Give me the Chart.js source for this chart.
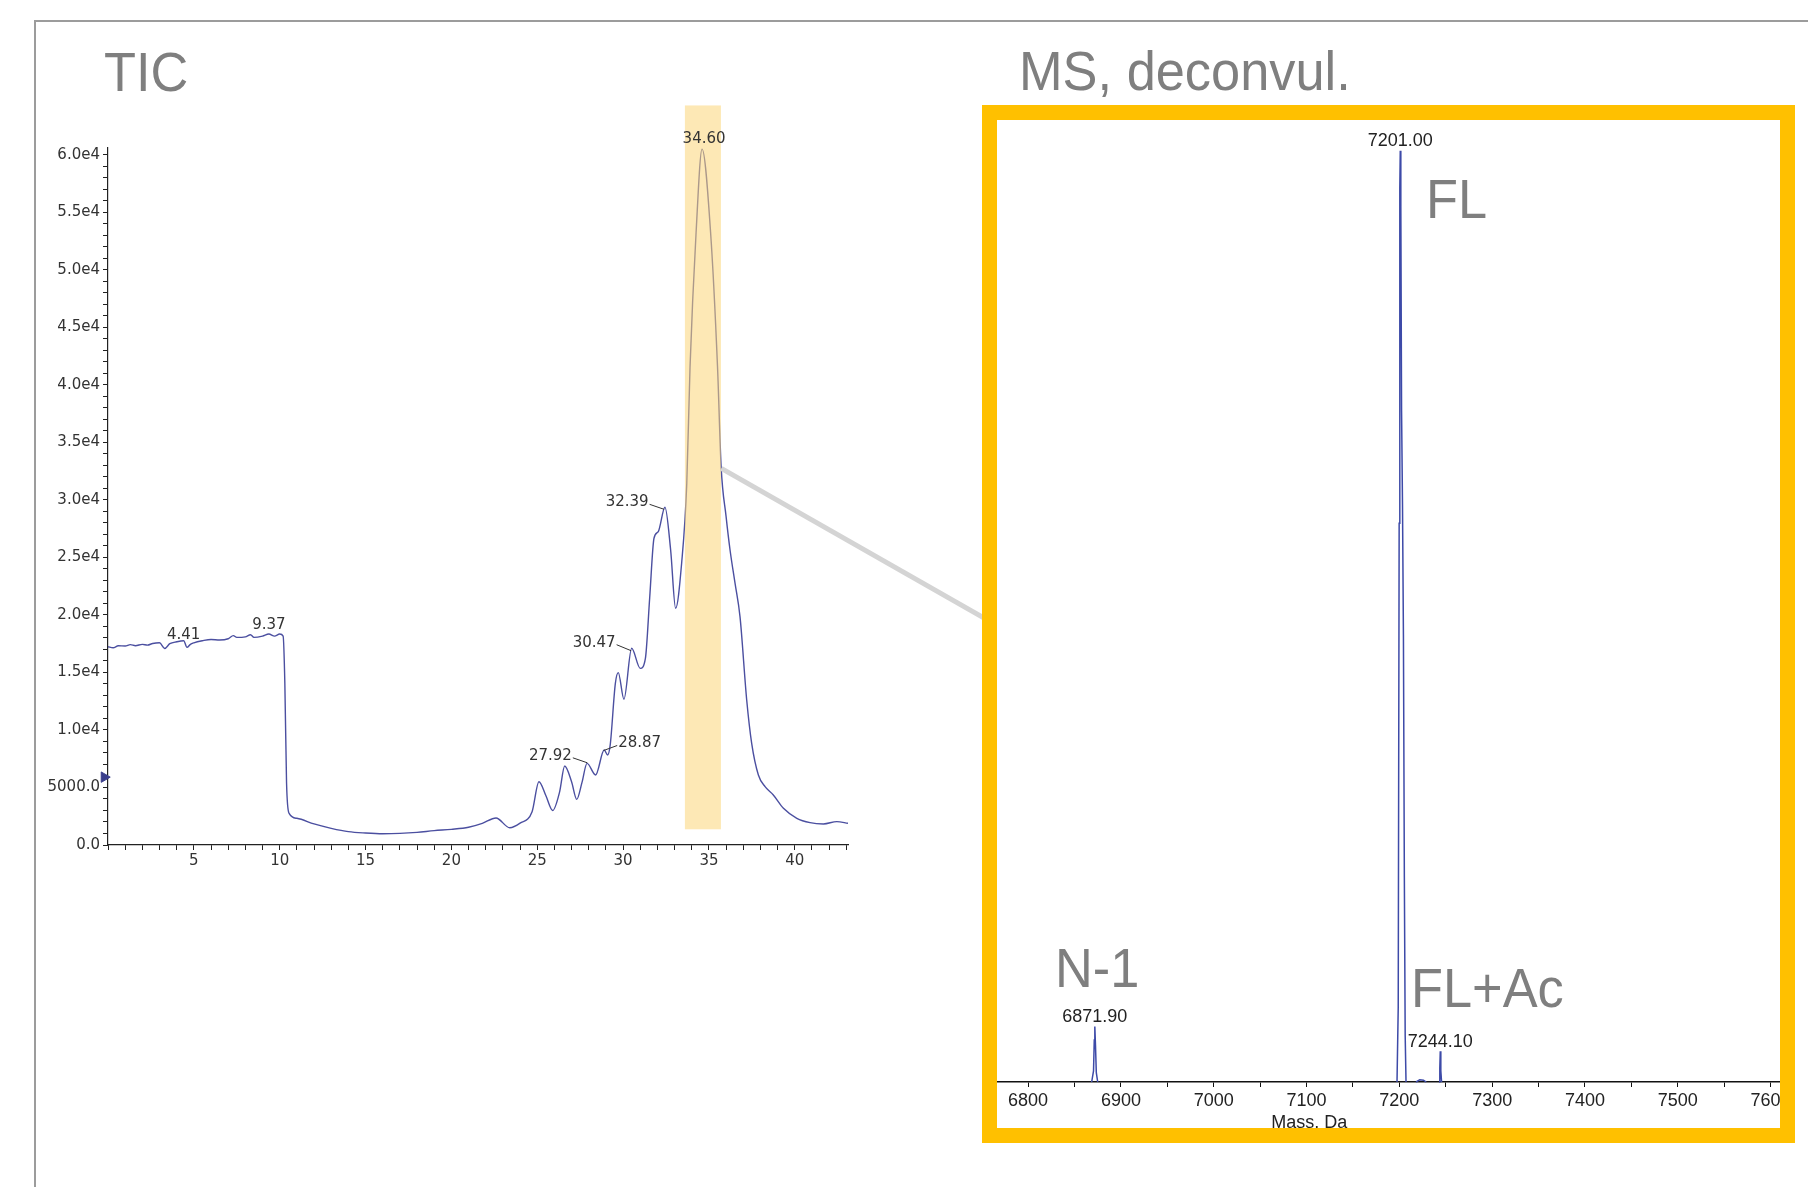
<!DOCTYPE html>
<html>
<head>
<meta charset="utf-8">
<script src="https://cdn.jsdelivr.net/npm/chart.js@4.4.1/dist/chart.umd.min.js"></script>
<style>
    body { margin: 0; width: 1808px; height: 1187px; overflow: hidden; position: relative; background: #fff; font-family: "Liberation Sans", Arial, sans-serif; }
    #frame { position: absolute; left: 34px; top: 20px; width: 1800px; height: 1200px; border-top: 2px solid #9c9c9c; border-left: 2px solid #9c9c9c; }
    .big { position: absolute; font-size: 56px; line-height: 56px; color: #7f7f7f; white-space: nowrap; transform: scaleX(0.935); transform-origin: left top; z-index: 5; }
    #ticCanvas { position: absolute; left: 0; top: 0; }
    #msBox { position: absolute; left: 982px; top: 105px; width: 813px; height: 1038px; border: 15px solid #ffc000; box-sizing: border-box; background: #fff; }
    #msClip { position: absolute; left: 0; top: 0; width: 783px; height: 1008px; overflow: hidden; }
    #msCanvas { position: absolute; left: 0; top: 0; }
</style>
</head>
<body>
<div id="frame"></div>
<canvas id="ticCanvas" width="1000" height="900"></canvas>
<div id="msBox"><div id="msClip"><canvas id="msCanvas" width="823" height="1008"></canvas></div></div>

<div class="big" style="left:104px; top:44px;">TIC</div>
<div class="big" style="left:1019px; top:43px;">MS, deconvul.</div>
<div class="big" style="left:1426px; top:171px;">FL</div>
<div class="big" style="left:1055px; top:940px;">N-1</div>
<div class="big" style="left:1411px; top:960px;">FL+Ac</div>

<script>
// TIC trace (time in min, intensity in counts)
const ticTime = [0, 0.3, 0.6, 1, 1.3, 1.6, 2, 2.3, 2.6, 3, 3.3, 3.6, 4.0, 4.41, 4.6, 4.8, 5, 5.5, 6, 6.5, 7, 7.3, 7.5, 8, 8.3, 8.5, 9, 9.37, 9.7, 10.0, 10.2,
    10.3, 10.4, 10.55, 11, 12, 13, 14, 15, 16, 17, 18, 19, 20, 21, 21.8, 22.6, 23.4, 24, 24.7, 25.1, 25.5, 25.9,
    26.3, 26.6, 27.0, 27.3, 27.6, 27.9, 28.4, 28.9, 29.1, 29.25, 29.55, 29.72, 30.05, 30.5, 31.0, 31.3, 31.55,
    31.8, 32.05, 32.44, 32.77, 33.06, 33.41, 33.71, 33.9, 34.25, 34.6, 35.1, 35.5, 35.71, 36.0, 36.23, 36.52,
    36.81, 37.2, 37.49, 37.88, 38.27, 38.75, 39.34, 40.12, 40.89, 41.67, 42.45, 43.1];
const ticIntensity = [17240, 17150, 17320, 17300, 17420, 17330, 17440, 17380, 17520, 17580, 17090, 17500, 17670, 17760, 17180, 17450, 17580, 17760, 17870, 17820, 17930, 18200, 18050, 18100, 18280, 18050, 18160, 18340, 18160, 18340, 18160,
    14050, 5360, 2750, 2320, 1830, 1450, 1160, 1040, 980, 1010, 1100, 1250, 1360, 1540, 1880, 2350, 1500, 1900, 2900, 5500, 4300, 3000,
    4600, 6870, 5500, 3970, 5400, 7100, 6090, 8260, 7830, 8700, 14060, 14990, 12670, 17100, 15360, 16230, 21500,
    26670, 27250, 29370, 25650, 20580, 24500, 31450, 41590, 53190, 60500, 53190, 41590, 32900, 28550, 25650, 22760,
    19850, 12610, 8840, 6090, 5070, 4350, 3190, 2320, 1940, 1830, 2030, 1890];

// y ticks every 1000, labelled every 5000
const ticYTicks = Array.from({length: 61}, (_, i) => i * 1000);

const peakTimes = [4.41, 9.37, 27.92, 28.87, 30.47, 32.39, 34.60];
// label offsets from the peak in px, and which side of the text gets a leader line
const peakLabelStyle = [[0, -6, null], [0, -9, null], [-37, -8, 'right'], [36, -8, 'left'], [-37, -9, 'right'], [-37, -8, 'right'], [2, -10, null]];

const bandTimes = [33.6, 35.7];
const bandLevels = [1365, 64300];
const zoomFromTime = 35.72;
const markerTime = [-0.22];
const markerLevel = [5900];

// deconvoluted spectrum (mass in Da, relative intensity)
const msMass = [6868.5, 6870.5, 6871.3, 6871.9, 6872.6, 6873.5, 6875, 6875,
    7197.5, 7198.8, 7199.8, 7200.5, 7201.0, 7201.6, 7202.4, 7203.4, 7204.4, 7205.4, 7206.3, 7207.2, 7207.2,
    7218, 7222, 7226, 7229, 7229,
    7242.8, 7243.6, 7244.1, 7244.7, 7245.5];
const msIntensity = [0, 1.2, 4.5, 5.95, 4, 1, 0, null,
    0, 8, 60, 96, 100, 94, 72, 62, 48, 22, 5, 0, null,
    0, 0.25, 0.2, 0, null,
    0, 1.5, 3.3, 1.2, 0];
const msLabelMass = [6871.90, 7201.00, 7244.10];
const msAxisTitle = 'Mass, Da';
const msAxisTitleAt = 7103;

function valueAt(t) {
    for (let i = 1; i < ticTime.length; i++) {
        if (ticTime[i] >= t) {
            const f = (t - ticTime[i - 1]) / (ticTime[i] - ticTime[i - 1]);
            return ticIntensity[i - 1] + f * (ticIntensity[i] - ticIntensity[i - 1]);
        }
    }
    return ticIntensity[ticIntensity.length - 1];
}

const ticDecor = {
    id: 'ticDecor',
    afterDatasetsDraw(chart) {
        const {ctx, scales: {x, y}} = chart;
        ctx.save();
        // highlighted peak window
        const bx0 = x.getPixelForValue(bandTimes[0]);
        const bx1 = x.getPixelForValue(bandTimes[1]);
        const by0 = y.getPixelForValue(bandLevels[1]);
        const by1 = y.getPixelForValue(bandLevels[0]);
        ctx.fillStyle = 'rgba(252, 214, 120, 0.55)';
        ctx.fillRect(bx0, by0, bx1 - bx0, by1 - by0);

        // grey connector towards the MS panel
        const cx = x.getPixelForValue(zoomFromTime);
        const cy = y.getPixelForValue(valueAt(zoomFromTime));
        ctx.strokeStyle = '#d4d4d4';
        ctx.lineWidth = 5;
        ctx.beginPath();
        ctx.moveTo(cx, cy);
        ctx.lineTo(chart.width, cy + (chart.width - cx) * 0.57);
        ctx.stroke();

        // peak labels
        ctx.font = '15px "DejaVu Sans"';
        ctx.fillStyle = '#333';
        ctx.strokeStyle = '#333';
        ctx.lineWidth = 1;
        ctx.textAlign = 'center';
        ctx.textBaseline = 'middle';
        peakTimes.forEach((t, i) => {
            const [dx, dy, side] = peakLabelStyle[i];
            const px = x.getPixelForValue(t);
            const py = y.getPixelForValue(valueAt(t));
            const text = t.toFixed(2);
            const tx = px + dx, ty = py + dy;
            ctx.fillText(text, tx, ty);
            if (side) {
                const w = ctx.measureText(text).width;
                const ex = side === 'right' ? tx + w / 2 + 1 : tx - w / 2 - 1;
                ctx.beginPath();
                ctx.moveTo(ex, ty + 2);
                ctx.lineTo(px, py - 1);
                ctx.stroke();
            }
        });
        ctx.restore();
    }
};

function ticYLabel(v) {
    if (v % 5000 !== 0) return '';
    if (v === 0) return '0.0';
    if (v === 5000) return '5000.0';
    return (v / 10000).toFixed(1) + 'e4';
}

new Chart(document.getElementById('ticCanvas'), {
    type: 'line',
    data: {
        datasets: [{
            data: ticTime.map((t, i) => ({x: t, y: ticIntensity[i]})),
            borderColor: '#4b4fa0',
            borderWidth: 1.4,
            pointRadius: 0,
            cubicInterpolationMode: 'monotone'
        }, {
            data: markerTime.map((t, i) => ({x: t, y: markerLevel[i]})),
            showLine: false,
            pointStyle: 'triangle',
            rotation: 90,
            pointRadius: 6,
            backgroundColor: '#3a3e8c',
            borderColor: '#3a3e8c',
            clip: false
        }]
    },
    options: {
        responsive: false,
        animation: false,
        events: [],
        layout: {padding: {left: 0, right: 152, top: 148, bottom: 0}},
        plugins: {legend: {display: false}, tooltip: {enabled: false}},
        scales: {
            x: {
                type: 'linear',
                min: 0,
                max: 43.1,
                afterFit(scale) { scale.height = 55; },
                ticks: {
                    stepSize: 1,
                    autoSkip: false,
                    maxRotation: 0,
                    includeBounds: false,
                    padding: 2,
                    color: '#333',
                    font: {family: 'DejaVu Sans', size: 15},
                    callback: v => (v > 0 && v % 5 === 0) ? String(v) : ''
                },
                grid: {drawOnChartArea: false, tickLength: 5, color: '#222'},
                border: {color: '#222', width: 1.2}
            },
            y: {
                min: 0,
                max: 60600,
                afterFit(scale) { scale.width = 108; },
                afterBuildTicks(scale) { scale.ticks = ticYTicks.map(v => ({value: v})); },
                ticks: {
                    autoSkip: false,
                    padding: 3,
                    color: '#333',
                    font: {family: 'DejaVu Sans', size: 15},
                    callback: ticYLabel
                },
                grid: {drawOnChartArea: false, tickLength: 5, color: '#222'},
                border: {color: '#222', width: 1.2}
            }
        }
    },
    plugins: [ticDecor]
});

const msDecor = {
    id: 'msDecor',
    afterDatasetsDraw(chart) {
        const {ctx, scales: {x, y}} = chart;
        ctx.save();
        ctx.font = '18px "Liberation Sans"';
        ctx.fillStyle = '#222';
        ctx.textAlign = 'center';
        ctx.textBaseline = 'alphabetic';
        msLabelMass.forEach(m => {
            let best = -1;
            msMass.forEach((mm, i) => {
                if (Math.abs(mm - m) < 2 && msIntensity[i] !== null && (best < 0 || msIntensity[i] > msIntensity[best])) best = i;
            });
            const px = x.getPixelForValue(m);
            const py = y.getPixelForValue(msIntensity[best]);
            ctx.fillText(m.toFixed(2), px, py - 4.5);
        });
        ctx.fillText(msAxisTitle, x.getPixelForValue(msAxisTitleAt), chart.chartArea.bottom + 45.6);
        ctx.restore();
    }
};

new Chart(document.getElementById('msCanvas'), {
    type: 'line',
    data: {
        datasets: [{
            data: msMass.map((m, i) => ({x: m, y: msIntensity[i]})),
            borderColor: '#3d4aa8',
            borderWidth: 1.5,
            pointRadius: 0,
            tension: 0,
            spanGaps: false,
            clip: false
        }]
    },
    options: {
        responsive: false,
        animation: false,
        events: [],
        layout: {padding: 0},
        plugins: {legend: {display: false}, tooltip: {enabled: false}},
        scales: {
            x: {
                type: 'linear',
                min: 6766.5,
                max: 7650,
                afterFit(scale) { scale.height = 46; },
                ticks: {
                    stepSize: 50,
                    autoSkip: false,
                    maxRotation: 0,
                    includeBounds: false,
                    padding: 3,
                    color: '#222',
                    font: {family: 'Liberation Sans', size: 18},
                    callback: v => v % 100 === 0 ? String(v) : ''
                },
                grid: {drawOnChartArea: false, tickLength: 5, color: '#111'},
                border: {color: '#111', width: 1.5}
            },
            y: {display: false, min: 0, max: 103.3}
        }
    },
    plugins: [msDecor]
});
</script>
</body>
</html>
